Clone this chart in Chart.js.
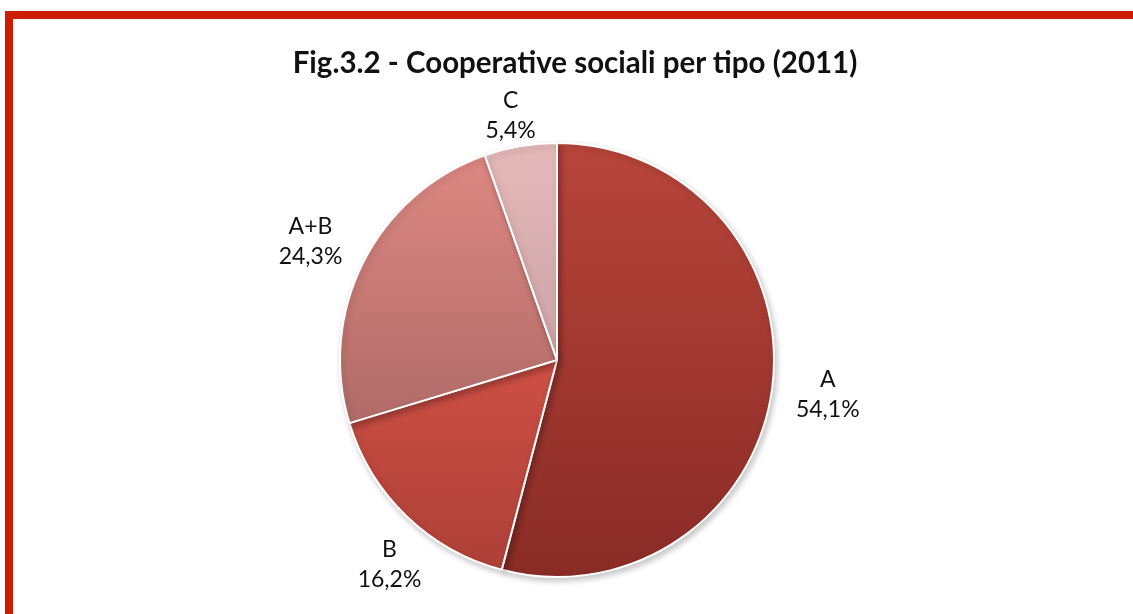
<!DOCTYPE html>
<html>
<head>
<meta charset="utf-8">
<script src="https://cdn.jsdelivr.net/npm/chart.js@4/dist/chart.umd.min.js"></script>
<style>
  html, body { margin: 0; padding: 0; background: #fff; overflow: hidden; }
  #wrap { position: relative; width: 1133px; height: 614px; }
  #frame {
    position: absolute; left: 5px; top: 11px; width: 1140px; height: 620px;
    border: 8px solid #cd1d00; box-sizing: border-box;
  }
  #title {
    position: absolute; left: 0; width: 1150px; top: 44px; text-align: center;
    font: bold 29.5px Lato, "Open Sans", sans-serif; color: #111; white-space: nowrap;
  }
  #chart { position: absolute; left: 0; top: 0; }
</style>
</head>
<body>
<div id="wrap">
  <div id="frame"></div>
  <canvas id="chart" width="1133" height="614"></canvas>
  <div id="title">Fig.3.2 - Cooperative sociali per tipo (2011)</div>
</div>
<script>
// ---- Data ----
var CATEGORIES = ["A", "B", "A+B", "C"];
var SHARES     = [54.1, 16.2, 24.3, 5.4];

// top / bottom colour of each slice gradient
var TOP_COLORS    = ["#b8453b", "#cd4f44", "#de8882", "#e6b9b9"];
var BOTTOM_COLORS = ["#892b25", "#ad4037", "#b06b69", "#cca3a6"];
// distance of each label block beyond the rim, plus a small hand nudge
var LABEL_GAP   = [55, 49, 57, 34];
var LABEL_NUDGE = [[1, 0], [17, 13], [-2, 5], [-4, 3]];

function formatShare(v) {
  return v.toFixed(1).replace(".", ",") + "%";
}

// vertical extent of a slice, angles measured clockwise from 12 o'clock
function sliceExtent(cy, r, a0, a1) {
  var ys = [cy, cy - r * Math.cos(a0), cy - r * Math.cos(a1)];
  if (a0 <= Math.PI && a1 >= Math.PI) ys.push(cy + r);
  if (a0 <= 0) ys.push(cy - r);
  return [Math.min.apply(null, ys), Math.max.apply(null, ys)];
}

function sliceGradient(context) {
  var chart = context.chart;
  var i = context.dataIndex;
  var ca = chart.chartArea;
  if (!ca) return TOP_COLORS[i];
  var cy = (ca.top + ca.bottom) / 2;
  var r = Math.min(ca.right - ca.left, ca.bottom - ca.top) / 2;
  var total = SHARES.reduce(function(s, v) { return s + v; }, 0);
  var before = 0;
  for (var k = 0; k < i; k++) before += SHARES[k];
  var a0 = before / total * 2 * Math.PI;
  var a1 = (before + SHARES[i]) / total * 2 * Math.PI;
  var ext = sliceExtent(cy, r, a0, a1);
  var g = chart.ctx.createLinearGradient(0, ext[0], 0, ext[1]);
  g.addColorStop(0, TOP_COLORS[i]);
  g.addColorStop(1, BOTTOM_COLORS[i]);
  return g;
}

// soft drop shadow under the pie
var pieShadow = {
  id: "pieShadow",
  beforeDatasetsDraw: function(chart) {
    var ctx = chart.ctx;
    ctx.save();
    ctx.shadowColor = "rgba(0,0,0,0.22)";
    ctx.shadowBlur = 6;
    ctx.shadowOffsetX = 2;
    ctx.shadowOffsetY = 3;
  },
  afterDatasetsDraw: function(chart) {
    chart.ctx.restore();
  },
};

// category + share printed outside each slice
var outsideLabels = {
  id: "outsideLabels",
  afterDraw: function(chart) {
    var ctx = chart.ctx;
    var arcs = chart.getDatasetMeta(0).data;
    ctx.save();
    ctx.fillStyle = "#111";
    ctx.font = "23px Lato, 'Open Sans', sans-serif";
    ctx.textAlign = "center";
    ctx.textBaseline = "middle";
    arcs.forEach(function(arc, i) {
      var p = arc.getProps(["x", "y", "startAngle", "endAngle", "outerRadius"], true);
      var mid = (p.startAngle + p.endAngle) / 2;
      var d = p.outerRadius + LABEL_GAP[i];
      var x = p.x + Math.cos(mid) * d + LABEL_NUDGE[i][0];
      var y = p.y + Math.sin(mid) * d + LABEL_NUDGE[i][1];
      ctx.fillText(CATEGORIES[i], x, y - 15);
      ctx.fillText(formatShare(SHARES[i]), x, y + 15);
    });
    ctx.restore();
  },
};

new Chart(document.getElementById("chart"), {
  type: "pie",
  data: {
    labels: CATEGORIES,
    datasets: [{
      data:            SHARES,
      backgroundColor: sliceGradient,
      borderColor:     "#ffffff",
      borderWidth:     2,
      hoverOffset:     0,
    }],
  },
  options: {
    responsive: false,
    animation:  false,
    layout: { padding: { left: 339, right: 358, top: 142, bottom: 36 } },
    plugins: {
      legend:  { display: false },
      tooltip: { enabled: false },
    },
  },
  plugins: [pieShadow, outsideLabels],
});
</script>
</body>
</html>
